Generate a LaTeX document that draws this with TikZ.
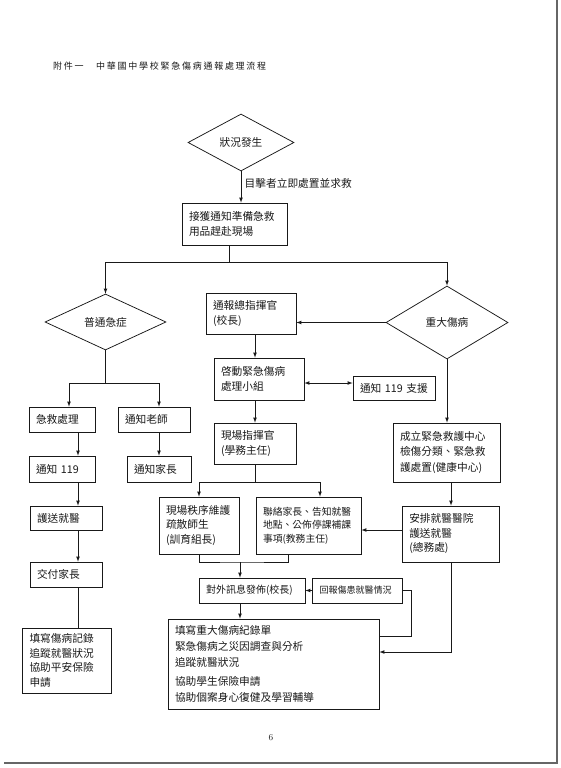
\documentclass[tikz,border=0pt]{standalone}
\usepackage{fontspec}
\newfontfamily\cjk{Noto Sans CJK TC}
\newfontfamily\titlefont[LetterSpace=19.4]{Noto Sans CJK TC}
\usepackage{tikz}
\usetikzlibrary{shapes,arrows,positioning}

\begin{document}
\begin{tikzpicture}[x=1pt,y=-1pt,line width=0.75pt,>=latex,black!90,
    flowbox/.style={draw,rectangle,inner xsep=7pt,inner ysep=2pt,align=left,font=\cjk\fontsize{10.7}{15.5}\selectfont},
    decision/.style={draw,diamond,inner sep=0pt,font=\cjk\fontsize{10.7}{13}\selectfont}]
    \useasboundingbox (0,0) rectangle (560,768);
    \draw[black!60,line width=1.5pt] (557,0) -- (557,763) -- (4,763);

    \node[anchor=base west,inner sep=0pt,font=\titlefont\fontsize{9}{9}\selectfont] (title) at (52.7,70) {附件一　中華國中學校緊急傷病通報處理流程};

    \node[decision,minimum width=106pt,minimum height=57pt] (start) at (241,142.5) {狀況發生};
    \node[flowbox,text width=91.5pt,minimum height=42pt] (recv) at (234.75,224) {接獲通知準備急救\\用品趕赴現場};
    \node[decision,minimum width=121pt,minimum height=56pt] (normal) at (105.5,322) {普通急症};
    \node[decision,minimum width=122pt,minimum height=73pt] (major) at (447,322.5) {重大傷病};
    \node[flowbox,text width=76pt,minimum height=41pt] (cmd) at (251,313.5) {通報總指揮官\\(校長)};
    \node[flowbox,text width=76pt,minimum height=42pt] (team) at (259,379) {啓動緊急傷病\\處理小組};
    \node[flowbox,text width=68pt,minimum height=24pt] (help) at (394,388) {通知 119 支援};
    \node[flowbox,text width=68pt,minimum height=41pt] (field) at (255,443.5) {現場指揮官\\(學務主任)};
    \node[flowbox,text width=52pt,minimum height=25pt] (firstaid) at (62,419.5) {急救處理};
    \node[flowbox,text width=58pt,minimum height=25pt] (teacher) at (154,419.5) {通知老師};
    \node[flowbox,text width=52pt,minimum height=26pt] (call) at (62,469) {通知 119};
    \node[flowbox,text width=50pt,minimum height=26pt] (parent) at (159,469) {通知家長};
    \node[flowbox,text width=93pt,minimum height=59pt] (rescue) at (446.5,452.5) {成立緊急救護中心\\檢傷分類、緊急救\\護處置(健康中心)};
    \node[flowbox,text width=66pt,minimum height=57pt,font=\cjk\fontsize{10.7}{14.5}\selectfont] (order) at (199,525.5) {現場秩序維護\\疏散師生\\(訓育組長)};
    \node[flowbox,text width=91pt,minimum height=57pt,font=\cjk\fontsize{9.8}{13.5}\selectfont] (contact) at (308.5,525.5) {聯絡家長、告知就醫\\地點、公佈停課補課\\事項(教務主任)};
    \node[flowbox,text width=58pt,minimum height=24pt] (escort) at (66,518) {護送就醫};
    \node[flowbox,text width=58pt,minimum height=25pt] (handover) at (66,574.5) {交付家長};
    \node[flowbox,text width=74.5pt,minimum height=65pt,font=\cjk\fontsize{10.7}{14.5}\selectfont] (record) at (66.75,660.5) {填寫傷病記錄\\追蹤就醫狀況\\協助平安保險\\申請};
    \node[flowbox,text width=83.5pt,minimum height=56pt,font=\cjk\fontsize{10.7}{14.5}\selectfont] (hospital) at (451,534) {安排就醫醫院\\護送就醫\\(總務處)};
    \node[flowbox,text width=92pt,minimum height=25pt,font=\cjk\fontsize{10}{12}\selectfont] (press) at (252,590.5) {對外訊息發佈(校長)};
    \node[flowbox,text width=76pt,minimum height=25pt,font=\cjk\fontsize{9}{11}\selectfont] (report) at (357.5,590.5) {回報傷患就醫情況};
    \node[flowbox,text width=197pt,minimum height=90pt,font=\cjk\fontsize{10.7}{16}\selectfont] (final) at (273.5,664) {填寫重大傷病紀錄單\\緊急傷病之災因調查與分析\\追蹤就醫狀況\\[3pt]協助學生保險申請\\協助個案身心復健及學習輔導};
    \node[font=\fontsize{9}{9}\selectfont] (page) at (271,738) {6};

    \coordinate (lcol) at (78,0);
    \coordinate (mcol) at (159,0);
    \coordinate (rcol) at (451,0);
    \coordinate (merge) at (240,562);
    \coordinate (loop) at (411,636);

    \draw[->] (start.south) -- node[right,pos=0.4,font=\cjk\fontsize{10.7}{13}\selectfont] (witness) {目擊者立即處置並求救} (start.south |- recv.north);
    \draw ([xshift=-5pt]recv.south) -- ++(0,17) coordinate (split);
    \draw[->] (split) -| (normal.north);
    \draw[->] (split) -| (major.north);
    \draw[->] (major.west) -- (major.west -| cmd.east);
    \draw[->] (field.north |- cmd.south) -- (field.north |- team.north);
    \draw[<->] ([yshift=-4pt]team.east) -- ([yshift=-4pt]team.east -| help.west);
    \draw[->] (field.north |- team.south) -- (field.north);
    \draw (normal.south) -- ++(0,33) coordinate (fork);
    \draw[->] (fork) -| ([xshift=7pt]firstaid.north);
    \draw[->] (fork) -| (mcol |- teacher.north);
    \foreach \a/\b in {firstaid/call,call/escort,escort/handover}
        \draw[->] (lcol |- \a.south) -- (lcol |- \b.north);
    \draw (lcol |- handover.south) -- (lcol |- record.north);
    \draw[->] (mcol |- teacher.south) -- (mcol |- parent.north);
    \draw[->] (major.south) -- (major.south |- rescue.north);
    \draw[->] (rcol |- rescue.south) -- (rcol |- hospital.north);
    \draw (field.south) -- ++(0,17.5) coordinate (fork2);
    \draw[->] (fork2) -| (order.north);
    \draw[->] (fork2) -| ([xshift=11.5pt]contact.north);
    \draw[->] ([yshift=4pt]hospital.west) -- ([yshift=4pt]hospital.west -| contact.east);
    \draw (order.south) |- (merge) -| ([xshift=-20.5pt]contact.south);
    \draw[->] (merge) -- (merge |- press.north);
    \draw[->] (report.west) -- (press.east);
    \draw[->] (merge |- press.south) -- (merge |- final.north);
    \draw (final.east |- loop) -| (report.east -| loop) -- (report.east);
    \draw[->] (rcol |- hospital.south) |- ([yshift=12pt]final.east);
\end{tikzpicture}
\end{document}
